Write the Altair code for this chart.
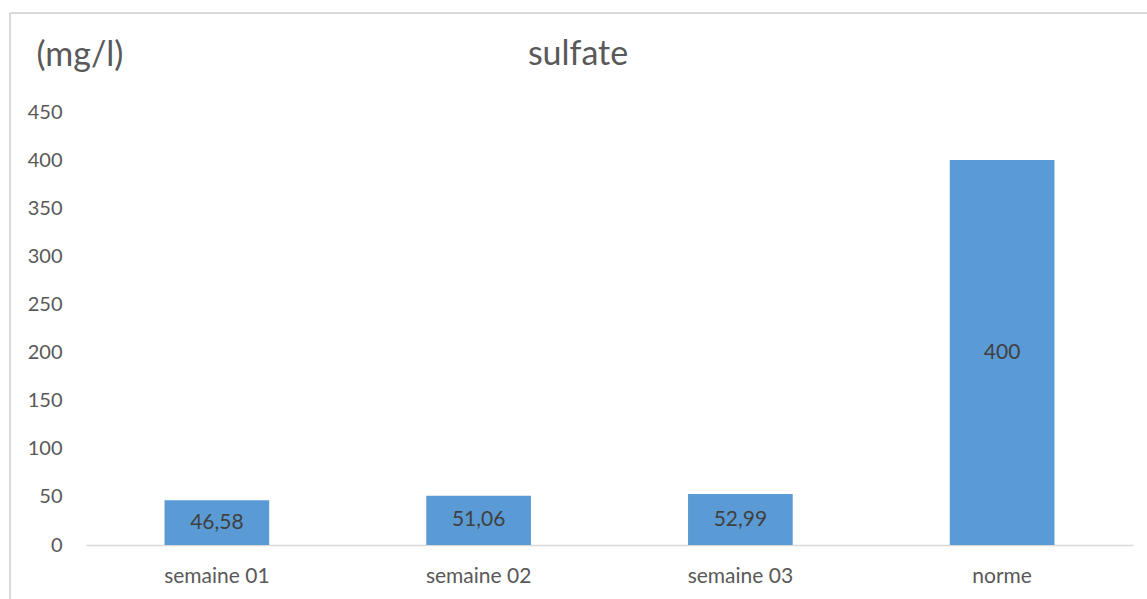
import altair as alt
import pandas as pd

# Sulfate concentration per week, compared with the norm
categories = ["semaine 01", "semaine 02", "semaine 03", "norme"]
values = [46.58, 51.06, 52.99, 400]
labels = [f"{v:.2f}".replace(".", ",") if v != int(v) else str(int(v)) for v in values]

df = pd.DataFrame({"cat": categories, "val": values, "lab": labels})

FONT = "Lato"
GREY = "#595959"

x = alt.X(
    "cat:N",
    sort=categories,
    scale=alt.Scale(paddingInner=0.6, paddingOuter=0.3),
    axis=alt.Axis(
        title=None, labelAngle=0, ticks=False, domainColor="#d9d9d9", domainWidth=1.5,
        labelFont=FONT, labelFontSize=21, labelColor=GREY, labelPadding=20,
    ),
)
y = alt.Y(
    "val:Q",
    scale=alt.Scale(domain=[0, 450], nice=False),
    axis=alt.Axis(
        values=list(range(0, 451, 50)), grid=False, ticks=False, domain=False,
        labelFont=FONT, labelFontSize=20, labelColor=GREY, labelPadding=24,
        title="(mg/l)", titleAngle=0, titleFont=FONT, titleFontSize=34,
        titleFontWeight="normal", titleColor=GREY, titleX=-50, titleY=-57,
        titleAlign="left", titleBaseline="middle",
    ),
)

bars = alt.Chart(df).mark_bar(color="#5B9BD5").encode(x=x, y=y)

text = alt.Chart(df).mark_text(
    font=FONT, fontSize=21, color="#404040", baseline="middle"
).transform_calculate(mid="datum.val / 2").encode(
    x=alt.X("cat:N", sort=categories),
    y=alt.Y("mid:Q"),
    text="lab:N",
)

# chart title, centred over the chart area
title = alt.Chart(pd.DataFrame({"t": ["sulfate"]})).mark_text(
    font=FONT, fontSize=34, color=GREY, align="center", baseline="middle"
).encode(x=alt.value(492), y=alt.value(-57), text="t:N")

# chart-area frame (left and top edges)
frame_left = alt.Chart(df).mark_rule(color="#d9d9d9", strokeWidth=1.5).encode(
    x=alt.value(-76), y=alt.value(-99), y2=alt.value(520)
)
frame_top = alt.Chart(df).mark_rule(color="#d9d9d9", strokeWidth=1.5).encode(
    x=alt.value(-76), x2=alt.value(1100), y=alt.value(-99)
)

chart = alt.layer(frame_left, frame_top, title, bars, text).properties(
    width=1047,
    height=433,
    padding={"left": 86, "top": 112, "right": 14, "bottom": 54},
    autosize=alt.AutoSizeParams(type="none"),
).configure_view(stroke=None)

chart.save("out.html", embed_options={"renderer": "svg", "actions": False})
